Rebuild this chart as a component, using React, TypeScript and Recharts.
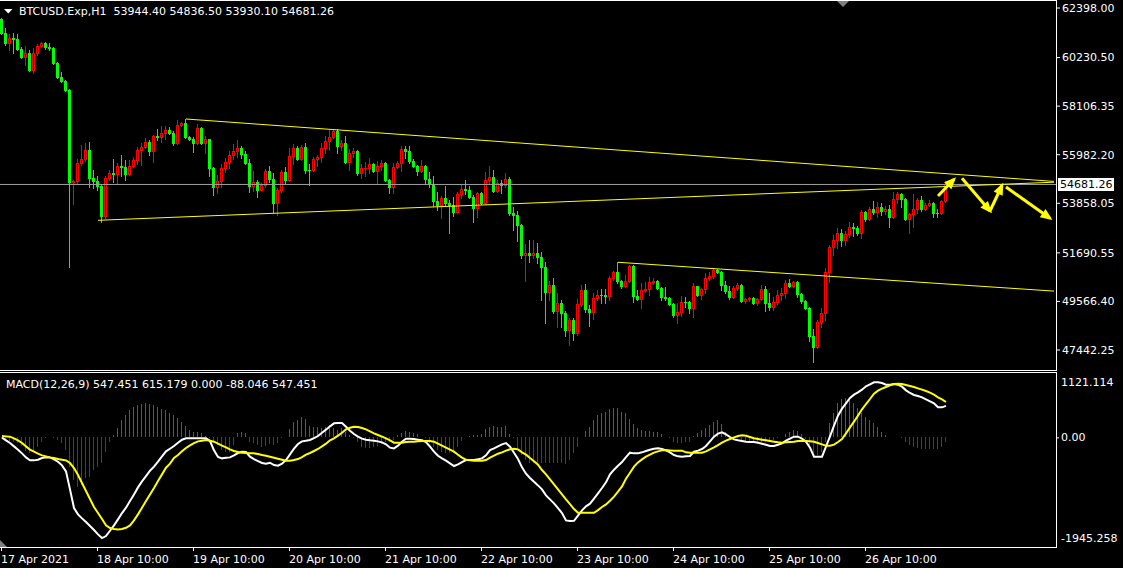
import React from "react";
import { Bar, ComposedChart, Line, ReferenceLine, XAxis, YAxis } from "recharts";

// H1 candles, 17 Apr 10:00 .. 26 Apr 22:00 (open of each bar = previous close)
const firstOpen = 61917;
const closes = [
  61305, 60868, 61086, 61043, 60605, 60255, 60430, 59687, 60430, 60736,
  60868, 60693, 60649, 59993, 59381, 59206, 58812, 54789, 54833, 55620,
  55795, 56189, 54964, 54833, 54614, 53302, 54964, 55183, 55139, 55489,
  55445, 55139, 55489, 55751, 56189, 56320, 56538, 56145, 56801, 56757,
  56932, 57063, 56932, 56495, 57282, 57369, 56757, 56670, 56495, 57151,
  56495, 56670, 55401, 54570, 54833, 55401, 55664, 55970, 56145, 56276,
  56014, 55620, 54614, 54789, 54439, 54658, 55270, 54920, 53871, 54439,
  55227, 54877, 55926, 56276, 55795, 56320, 55314, 55300, 55795, 55882,
  56276, 56582, 56757, 57019, 56364, 56495, 55664, 56057, 56145, 55183,
  55401, 55410, 55576, 55270, 55489, 55620, 54877, 54570, 55445, 55620,
  56232, 56145, 55707, 55489, 55270, 55489, 54920, 54702, 53958, 53783,
  54090, 53871, 53783, 53477, 54264, 54483, 54439, 54133, 53652, 54308,
  53871, 54877, 55008, 54396, 54745, 54658, 54920, 53434, 53346, 52909,
  51597, 51684, 51597, 51684, 51509, 51072, 49979, 50285, 49148, 49498,
  49061, 48317, 48755, 48186, 49454, 50066, 49236, 49104, 49716, 49848,
  49840, 49804, 50591, 50854, 50460, 50241, 50460, 51116, 49804, 49673,
  50066, 50110, 50416, 50460, 50154, 49760, 49716, 49454, 48973, 49104,
  49541, 49535, 49279, 50241, 49848, 50110, 50591, 50679, 50941, 50854,
  50285, 50023, 49760, 50154, 50285, 49585, 49673, 49716, 49498, 49673,
  50110, 49498, 49323, 49541, 49848, 49935, 50372, 50241, 50416, 49891,
  49585, 49279, 48055, 47574, 48667, 49061, 50854, 51947, 52253, 52559,
  52253, 52515, 52821, 52790, 52559, 53477, 53171, 53609, 53477, 53696,
  53521, 53609, 53259, 54046, 54264, 54046, 53171, 53390, 53609, 54002,
  53609, 53783, 53871, 53434, 53420, 53944.4, 54681.26,
];
const highs = [
  61961, 61524, 61261, 61305, 61261, 60693, 60736, 60561, 60649, 60824,
  60911, 60911, 60868, 60693, 60037, 59599, 59250, 58856, 54877, 55795,
  56407, 56495, 56538, 55314, 55052, 54658, 55052, 55314, 55795, 55620,
  55970, 55751, 55751, 55882, 56320, 56495, 56713, 56626, 56844, 57107,
  57238, 57238, 57194, 57019, 57500, 57413, 57544, 56801, 56757, 57325,
  57194, 56801, 56670, 55445, 55096, 55576, 55839, 56145, 56451, 56626,
  56364, 56145, 55795, 55270, 54877, 54745, 55357, 55489, 55183, 54526,
  55314, 55445, 56276, 56451, 56364, 56407, 56495, 55576, 55882, 55970,
  56495, 56801, 57063, 57107, 57107, 56626, 56801, 56232, 56276, 56189,
  55576, 55664, 55839, 55620, 55707, 55751, 55664, 54920, 55620, 55707,
  56364, 56364, 56364, 55795, 55533, 55751, 55533, 55227, 55052, 54352,
  54177, 54614, 54002, 54133, 54352, 54658, 54877, 54614, 54221, 54352,
  54352, 55227, 55489, 55314, 54877, 54877, 55183, 55008, 53696, 53521,
  52953, 52078, 52253, 52253, 52122, 51728, 51291, 50460, 50591, 49935,
  49629, 49148, 48842, 48842, 49673, 50285, 50329, 49410, 49935, 50066,
  50110, 50110, 50679, 50897, 51291, 50504, 50723, 51160, 51160, 50066,
  50372, 50416, 50635, 50591, 50504, 50198, 50198, 49760, 49498, 49498,
  49804, 49760, 49585, 50372, 50241, 50154, 50810, 50854, 51028, 50985,
  50897, 50460, 50241, 50241, 50372, 50329, 49716, 49760, 49760, 49716,
  50285, 50241, 49935, 49760, 50066, 50154, 50504, 50547, 50460, 50460,
  49935, 49629, 49323, 48361, 48755, 49279, 51028, 52034, 52471, 52778,
  52734, 52646, 53040, 52996, 52865, 53565, 53521, 53696, 53958, 53915,
  53871, 53740, 53783, 54352, 54352, 54308, 54090, 53434, 54264, 54090,
  54177, 53871, 54002, 53915, 53609, 54002, 54836.5,
];
const lows = [
  61261, 60780, 60561, 60430, 60561, 60212, 59906, 59643, 59556, 60343,
  60693, 60605, 60561, 59949, 59337, 59162, 58769, 51072, 53827, 54745,
  55533, 55707, 54570, 54526, 54439, 53040, 53215, 54877, 54789, 54745,
  55052, 54877, 55096, 55445, 55576, 55533, 56276, 55970, 55664, 56626,
  56538, 56670, 56888, 56407, 56451, 57238, 56713, 56626, 56101, 56451,
  56451, 56057, 55052, 54221, 54308, 54570, 55227, 55401, 55795, 55882,
  55839, 55576, 54352, 54396, 54133, 54483, 54570, 54789, 53477, 53346,
  54352, 54745, 54833, 55576, 55751, 55751, 55183, 54658, 55270, 55489,
  55664, 56057, 56189, 56713, 56057, 56189, 55620, 55314, 55882, 55096,
  54964, 55052, 55183, 55227, 54745, 55314, 54833, 54308, 54308, 55401,
  55270, 55839, 55620, 55445, 55096, 55227, 54745, 54570, 53740, 53565,
  53215, 53783, 52559, 53302, 53434, 54090, 54264, 54090, 53040, 53259,
  53827, 53827, 54745, 54352, 54352, 54308, 54570, 53346, 52690, 52209,
  51466, 50460, 51291, 51466, 51247, 49629, 48623, 49629, 49061, 48448,
  48448, 48055, 47661, 47880, 48099, 49367, 49104, 48492, 48798, 49629,
  49498, 49498, 49629, 50504, 50372, 50154, 50198, 50416, 49541, 49629,
  49279, 49979, 49848, 50329, 50110, 49629, 49629, 49410, 48886, 48623,
  48930, 49323, 49061, 48886, 49804, 49673, 49935, 50504, 50591, 50810,
  50066, 49935, 49673, 49716, 50066, 49541, 49498, 49585, 49454, 49410,
  49629, 49148, 49192, 49192, 49454, 49629, 49716, 50198, 50198, 49760,
  49498, 49236, 47836, 46918, 47530, 48448, 48755, 50416, 51597, 51903,
  51990, 52034, 52384, 52428, 52471, 52340, 53084, 53128, 53390, 53259,
  53346, 53390, 52821, 53215, 53871, 53696, 53128, 52559, 52821, 53434,
  53521, 53565, 53740, 53259, 53259, 53390, 53930.1,
];

// MACD(12,26,9) sub-window
const macdLine = [
  -6, -52, -99, -157, -215, -279, -349, -401, -401, -389,
  -360, -349, -349, -383, -424, -488, -593, -906, -1232, -1342,
  -1412, -1476, -1545, -1615, -1691, -1755, -1720, -1627, -1534, -1429,
  -1319, -1226, -1110, -994, -872, -767, -674, -581, -511, -424,
  -331, -244, -198, -151, -93, -41, -17, -17, -17, -17,
  -17, -17, -64, -227, -343, -366, -354, -349, -314, -273,
  -250, -256, -337, -378, -413, -447, -459, -442, -482, -494,
  -459, -395, -296, -198, -116, -70, -58, -46, -12, 23,
  81, 134, 192, 244, 250, 250, 186, 116, 58, 12,
  -23, -41, -52, -58, -70, -87, -122, -180, -192, -145,
  -76, -23, -23, -29, -41, -52, -81, -163, -250, -320,
  -366, -407, -453, -500, -471, -430, -395, -395, -395, -383,
  -366, -314, -221, -192, -157, -122, -99, -163, -267, -378,
  -523, -633, -709, -773, -837, -906, -1011, -1081, -1150, -1232,
  -1319, -1447, -1458, -1453, -1365, -1272, -1203, -1156, -1069, -976,
  -883, -784, -645, -564, -494, -430, -343, -267, -279, -279,
  -261, -238, -215, -198, -192, -203, -227, -261, -308, -331,
  -337, -331, -325, -250, -232, -203, -151, -70, 12, 64,
  87, 52, 6, -35, -52, -64, -76, -81, -81, -93,
  -110, -128, -151, -151, -128, -105, -58, -23, 12, 12,
  -23, -76, -180, -337, -337, -337, -163, 17, 203, 378,
  500, 593, 686, 744, 784, 831, 889, 924, 959, 959,
  947, 918, 918, 930, 918, 883, 819, 773, 738, 720,
  697, 662, 627, 593, 523, 523, 547.451,
];
const signalLine = [
  23, 17, 12, -17, -52, -99, -157, -215, -250, -285,
  -314, -331, -349, -360, -378, -389, -401, -447, -535, -657,
  -796, -935, -1075, -1214, -1319, -1423, -1534, -1580, -1598, -1604,
  -1598, -1575, -1534, -1447, -1342, -1226, -1110, -994, -883, -761,
  -645, -529, -459, -360, -308, -244, -186, -139, -99, -70,
  -58, -46, -58, -76, -110, -145, -174, -209, -238, -256,
  -267, -273, -279, -279, -291, -308, -320, -337, -354, -372,
  -389, -407, -407, -395, -378, -343, -302, -273, -238, -203,
  -157, -110, -52, -17, 29, 81, 139, 168, 186, 180,
  163, 139, 105, 70, 41, 12, -17, -52, -93, -93,
  -93, -81, -76, -76, -70, -64, -64, -64, -76, -110,
  -145, -180, -215, -250, -302, -354, -389, -401, -407, -407,
  -407, -395, -354, -320, -285, -261, -232, -209, -198, -209,
  -261, -302, -360, -418, -476, -569, -645, -732, -819, -906,
  -994, -1081, -1162, -1249, -1313, -1313, -1313, -1313, -1313, -1267,
  -1214, -1168, -1104, -1034, -947, -854, -720, -616, -511, -436,
  -383, -337, -302, -267, -244, -227, -221, -227, -232, -232,
  -232, -261, -267, -267, -267, -267, -244, -209, -174, -134,
  -93, -58, -29, 0, 23, 35, 29, 6, -17, -29,
  -41, -52, -64, -76, -87, -93, -87, -81, -76, -64,
  -58, -64, -70, -76, -99, -122, -145, -145, -128, -81,
  -29, 70, 174, 273, 378, 488, 581, 668, 761, 813,
  848, 877, 906, 930, 935, 930, 912, 895, 877, 854,
  831, 808, 779, 744, 697, 662, 615.179,
];
const histogram = [
  -17, -35, -58, -76, -105, -151, -232, -279, -250, -163,
  -76, -17, 12, -17, -46, -93, -221, -511, -744, -860,
  -831, -715, -686, -569, -511, -453, -250, -76, 41, 157,
  302, 389, 476, 523, 564, 581, 593, 575, 564, 535,
  488, 476, 418, 389, 331, 273, 198, 128, 99, 99,
  70, 23, -17, -76, -134, -221, -250, -250, -134, 70,
  99, 81, -76, -105, -134, -163, -151, -116, -134, -105,
  -17, 12, 139, 273, 302, 360, 314, 198, 186, 186,
  157, 186, 215, 157, 128, 157, 99, 41, -17, -76,
  -163, -192, -192, -163, -151, -116, -76, -76, -46, 41,
  81, 110, 99, 70, 52, 12, -17, -105, -163, -221,
  -250, -267, -279, -279, -163, -58, 12, 23, 41, 41,
  52, 139, 186, 198, 186, 186, 198, 58, -17, -221,
  -308, -395, -453, -453, -453, -442, -442, -453, -453, -453,
  -453, -465, -395, -279, -163, 12, 116, 186, 302, 389,
  430, 447, 488, 505, 505, 447, 430, 314, 232, 157,
  128, 116, 116, 99, 99, 58, 12, -17, -76, -105,
  -93, -76, -76, 23, 70, 128, 157, 215, 273, 302,
  232, 99, 23, 12, -17, -46, -76, -76, -76, -76,
  -76, -76, -58, -46, -17, 12, 58, 99, 128, 116,
  58, -35, -134, -279, -308, -250, -76, 256, 418, 593,
  662, 680, 651, 593, 505, 418, 360, 302, 244, 174,
  99, 41, 0, 0, 0, -17, -76, -134, -174, -192,
  -198, -203, -203, -209, -209, -163, -88.046,
];

const priceTicks = [62398.0, 60230.5, 58106.35, 55982.2, 53858.05, 51690.55, 49566.4, 47442.25];
const macdTicks = [1121.114, 0, -1945.258];
const dateTicks = [0, 24, 48, 72, 96, 120, 144, 168, 192, 216];
const dateLabels = [
  "17 Apr 2021", "18 Apr 10:00", "19 Apr 10:00", "20 Apr 10:00", "21 Apr 10:00",
  "22 Apr 10:00", "23 Apr 10:00", "24 Apr 10:00", "25 Apr 10:00", "26 Apr 10:00",
];

// drawn objects: [bar index, price]
const upperTrend = [[46, 57544], [263, 54815]];
const lowerTrend = [[24, 53114], [263, 54780]];
const midTrend = [[154, 51278], [263, 50018]];
const arrowPaths = [
  [[234, 54177], [238, 54907]],
  [[240, 54951], [247, 53521]],
  [[247, 53521], [250, 54636]],
  [[251, 54570], [262, 53202]],
];
const lastPrice = 54681.26;

const SLOTS = 264; // bars + chart shift on the right
const FONT = "DejaVu Sans";
const BULL = "#ff0000";
const BEAR = "#00ff00";
const HIST_UP = "#d0213c";
const HIST_DOWN = "#0b6b0b";
const TREND = "#ffff00";

const rows = Array.from({ length: SLOTS }, (_, i) => {
  const row: Record<string, any> = { i };
  if (i < closes.length) {
    const open = i === 0 ? firstOpen : closes[i - 1];
    const close = closes[i];
    const hi = Math.max(highs[i], open, close);
    const lo = Math.min(lows[i], open, close);
    Object.assign(row, { open, close, hi, lo, range: [lo, hi] });
    row.macd = macdLine[i];
    row.signal = signalLine[i];
    row.hist = histogram[i];
  }
  return row;
});
const putLine = (key: string, pts: number[][]) => {
  pts.forEach(([idx, price]) => {
    rows[idx][key] = price;
  });
};
putLine("tU", upperTrend);
putLine("tL", lowerTrend);
putLine("tM", midTrend);
arrowPaths.forEach((p, k) => putLine(`a${k}`, p));

function Candle(props: any) {
  const { x, y, width, height, payload } = props;
  if (!payload || payload.close == null || y == null || !isFinite(y)) return null;
  const top = Math.min(y, y + height);
  const bot = Math.max(y, y + height);
  const span = payload.hi - payload.lo;
  const py = (v: number) => (span > 0 ? top + ((payload.hi - v) / span) * (bot - top) : top);
  const cx = Math.floor(x + width / 2) - 1;
  const yo = py(payload.open);
  const yc = py(payload.close);
  const bTop = Math.round(Math.min(yo, yc));
  const bH = Math.round(Math.max(yo, yc)) - bTop + 1;
  const wTop = Math.round(top);
  const wH = Math.max(1, Math.round(bot) - wTop + 1);
  const up = payload.close > payload.open;
  const col = up ? BULL : BEAR;
  return (
    <g shapeRendering="crispEdges">
      <rect x={cx} y={wTop} width={1} height={wH} fill={col} />
      <rect x={cx - 1} y={bTop} width={3} height={bH} fill={col} />
      {up && bH > 2 && <rect x={cx} y={bTop + 1} width={1} height={bH - 2} fill="#000" />}
    </g>
  );
}

function HistBar(props: any) {
  const { x, y, width, height, payload } = props;
  if (!payload || payload.hist == null || y == null || !isFinite(y)) return null;
  const top = Math.round(Math.min(y, y + height));
  const bot = Math.round(Math.max(y, y + height));
  if (bot - top < 1) return null;
  const cx = Math.floor(x + width / 2) - 1;
  return (
    <rect
      x={cx}
      y={top}
      width={1}
      height={bot - top}
      fill={payload.hist >= 0 ? HIST_UP : HIST_DOWN}
      shapeRendering="crispEdges"
    />
  );
}

function makeArrowDot(startIdx: number, endIdx: number) {
  let start: { x: number; y: number } | null = null;
  return (p: any) => {
    const key = `ad-${startIdx}-${p.index}`;
    if (p.cx == null || p.cy == null || p.value == null) return <g key={key} />;
    if (p.index === startIdx) {
      start = { x: p.cx, y: p.cy };
      return <g key={key} />;
    }
    if (p.index !== endIdx) return <g key={key} />;
    let s = start;
    if (Array.isArray(p.points)) {
      const q = p.points.find((pt: any) => pt && pt.payload && pt.payload.i === startIdx);
      if (q && q.y != null) s = { x: q.x, y: q.y };
    }
    if (!s) return <g key={key} />;
    const dx = p.cx - s.x;
    const dy = p.cy - s.y;
    const len = Math.hypot(dx, dy) || 1;
    const ux = dx / len;
    const uy = dy / len;
    const tx = p.cx + ux * 3;
    const ty = p.cy + uy * 3;
    const bx = p.cx - ux * 9;
    const by = p.cy - uy * 9;
    const nx = -uy * 5;
    const ny = ux * 5;
    return (
      <polygon
        key={key}
        points={`${tx},${ty} ${bx + nx},${by + ny} ${bx - nx},${by - ny}`}
        fill={TREND}
      />
    );
  };
}
const arrowDots = arrowPaths.map((p) => makeArrowDot(p[0][0], p[1][0]));

function PriceTag(props: any) {
  const vb = props.viewBox;
  if (!vb) return null;
  const x = vb.x + vb.width + 2;
  const y = Math.round(vb.y);
  return (
    <g>
      <rect x={x} y={y - 6} width={56} height={13} fill="#fff" />
      <text x={x + 2} y={y + 4} fill="#000" fontSize={11} fontFamily={FONT}>
        {lastPrice.toFixed(2)}
      </text>
    </g>
  );
}

function DateTick(props: any) {
  const { x, y, payload } = props;
  const idx = dateTicks.indexOf(payload.value);
  const px = Math.floor(x) - 1;
  return (
    <g>
      <line x1={px + 0.5} x2={px + 0.5} y1={y - 2} y2={y + 2} stroke="#fff" />
      <text x={px} y={y + 14} fill="#fff" fontSize={11} fontFamily={FONT}>
        {idx >= 0 ? dateLabels[idx] : ""}
      </text>
    </g>
  );
}

function MacdTick(props: any) {
  const { x, y, payload } = props;
  const v = payload.value;
  let dy = 0;
  let label = v.toFixed(3);
  if (v === 0) label = "0.00";
  if (v === macdTicks[0]) dy = 9;
  if (v === macdTicks[2]) dy = -11;
  return (
    <g>
      {v === 0 && <line x1={x} x2={x + 3} y1={y + 0.5} y2={y + 0.5} stroke="#fff" />}
      <text x={x + 5} y={y + dy} dy="0.355em" fill="#fff" fontSize={11} fontFamily={FONT}>
        {label}
      </text>
    </g>
  );
}

export default function App() {
  return (
    <div style={{ position: "relative", width: 1123, height: 568, background: "#000", overflow: "hidden" }}>
      <style>{"html,body{margin:0;padding:0;background:#000;}"}</style>

      <div style={{ position: "absolute", left: 0, top: 0 }}>
        <ComposedChart
          width={1122}
          height={371}
          data={rows}
          margin={{ top: 0, right: 0, bottom: 0, left: 0 }}
          barCategoryGap={0}
          barGap={0}
        >
          <XAxis dataKey="i" type="category" hide />
          <YAxis
            orientation="right"
            width={66}
            domain={[46524, 62748]}
            allowDataOverflow
            ticks={priceTicks}
            interval={0}
            axisLine={false}
            tickSize={4}
            tickMargin={2}
            tickLine={{ stroke: "#fff" }}
            tick={{ fill: "#fff", fontSize: 11, fontFamily: FONT }}
            tickFormatter={(v: number) => v.toFixed(2)}
          />
          <ReferenceLine y={lastPrice} stroke="#a0a0a0" label={<PriceTag />} />
          <Bar dataKey="range" shape={<Candle />} isAnimationActive={false} />
          <Line type="linear" dataKey="tU" stroke={TREND} strokeWidth={1} dot={false} connectNulls isAnimationActive={false} />
          <Line type="linear" dataKey="tL" stroke={TREND} strokeWidth={1} dot={false} connectNulls isAnimationActive={false} />
          <Line type="linear" dataKey="tM" stroke={TREND} strokeWidth={1} dot={false} connectNulls isAnimationActive={false} />
          {arrowPaths.map((_, k) => (
            <Line
              key={k}
              type="linear"
              dataKey={`a${k}`}
              stroke={TREND}
              strokeWidth={3}
              dot={arrowDots[k]}
              activeDot={false}
              connectNulls
              isAnimationActive={false}
            />
          ))}
        </ComposedChart>
      </div>

      <div style={{ position: "absolute", left: 0, top: 373 }}>
        <ComposedChart
          width={1122}
          height={195}
          data={rows}
          margin={{ top: 0, right: 0, bottom: 0, left: 0 }}
          barCategoryGap={0}
          barGap={0}
        >
          <XAxis
            dataKey="i"
            type="category"
            height={19}
            ticks={dateTicks}
            interval={0}
            axisLine={false}
            tickLine={false}
            tickSize={0}
            tickMargin={0}
            tick={<DateTick />}
          />
          <YAxis
            orientation="right"
            width={66}
            domain={[-1945.258, 1121.114]}
            allowDataOverflow
            ticks={macdTicks}
            interval={0}
            axisLine={false}
            tickLine={false}
            tickSize={0}
            tickMargin={0}
            tick={<MacdTick />}
          />
          <Bar dataKey="hist" shape={<HistBar />} isAnimationActive={false} />
          <Line type="linear" dataKey="macd" stroke="#ffffff" strokeWidth={2} dot={false} isAnimationActive={false} />
          <Line type="linear" dataKey="signal" stroke="#ffff00" strokeWidth={2} dot={false} isAnimationActive={false} />
        </ComposedChart>
      </div>

      <svg
        width={1123}
        height={568}
        style={{ position: "absolute", left: 0, top: 0, pointerEvents: "none" }}
      >
        <g stroke="#fff" strokeWidth={1} shapeRendering="crispEdges">
          <line x1={0} x2={1057} y1={0.5} y2={0.5} />
          <line x1={1056.5} x2={1056.5} y1={0} y2={371} />
          <line x1={0} x2={1057} y1={370.5} y2={370.5} />
          <line x1={0} x2={1057} y1={372.5} y2={372.5} />
          <line x1={1056.5} x2={1056.5} y1={372} y2={548} />
          <line x1={0} x2={1057} y1={547.5} y2={547.5} />
        </g>
        <polygon points="837,1 849,1 843,7" fill="#808080" />
        <polygon points="0,540 0,547 7,547" fill="#808080" />
        <polygon points="4,9 12.5,9 8.25,13.5" fill="#fff" />
        <text x={19} y={14.5} fill="#fff" fontSize={11} fontFamily={FONT} style={{ whiteSpace: "pre" }}>
          {"BTCUSD.Exp,H1  53944.40 54836.50 53930.10 54681.26"}
        </text>
        <text x={6} y={388} fill="#fff" fontSize={11} fontFamily={FONT} style={{ whiteSpace: "pre" }}>
          {"MACD(12,26,9) 547.451 615.179 0.000 -88.046 547.451"}
        </text>
      </svg>
    </div>
  );
}
